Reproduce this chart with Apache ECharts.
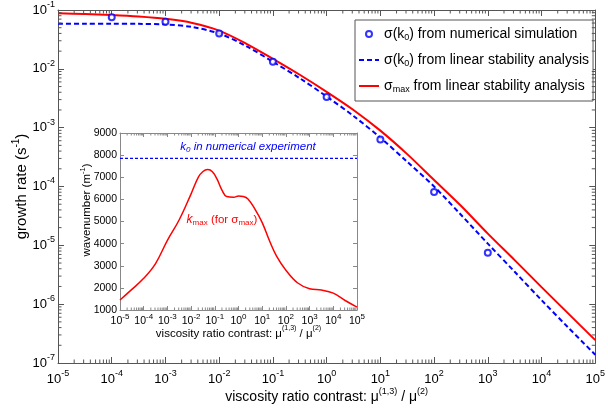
<!DOCTYPE html>
<html><head><meta charset="utf-8">
<script src="https://cdn.jsdelivr.net/npm/echarts@6/dist/echarts.min.js"></script>
<style>html,body{margin:0;padding:0;background:#fff}#c{width:608px;height:409px}</style>
</head><body><div id="c"></div>
<script>
// ---------- data ----------
const lineX = [1e-5, 3.16e-5, 1e-4, 3.16e-4, 1e-3, 3.16e-3, 1e-2, 3.16e-2, 1e-1, 3.16e-1, 1, 3.16, 10, 31.6, 100, 316, 1000, 3162, 1e4, 31623, 1e5];
const sigmaMax = [0.0879, 0.0855, 0.0822, 0.0776, 0.0708, 0.0603, 0.0447, 0.0269, 0.0148, 0.00794, 0.00407, 0.00200, 8.9e-4, 3.55e-4, 1.29e-4, 4.7e-5, 1.58e-5, 5.6e-6, 1.95e-6, 6.9e-7, 2.45e-7];
const sigmaK0Lsa = [0.0585, 0.0585, 0.0582, 0.0581, 0.0569, 0.0513, 0.0398, 0.0245, 0.0132, 0.00692, 0.00339, 0.00158, 6.76e-4, 2.63e-4, 1.0e-4, 3.31e-5, 1.07e-5, 3.55e-6, 1.17e-6, 3.98e-7, 1.38e-7];
const simX = [1e-4, 1e-3, 1e-2, 1e-1, 1, 10, 100, 1000];
const sigmaK0Sim = [0.0752, 0.0631, 0.0398, 0.0132, 0.00331, 6.3e-4, 8.1e-5, 7.5e-6];
const insetX = [1e-5, 3.16e-5, 1e-4, 3.16e-4, 1e-3, 3.16e-3, 1e-2, 0.02, 0.0316, 0.05, 0.0794, 0.126, 0.2, 0.316, 0.631, 1, 1.585, 2.512, 5.012, 10, 19.95, 39.8, 100, 316.2, 1000, 3162, 1e4, 31623, 1e5];
const kMax = [1450, 1930, 2430, 3100, 4150, 5080, 6250, 6997, 7260, 7350, 7250, 6900, 6420, 6130, 6100, 6150, 6130, 6020, 5550, 4950, 4150, 3450, 2800, 2220, 1960, 1900, 1760, 1430, 1130];
const k0Value = 7850;
const k0X = [1e-5, 1e5];
// tick labels (decade exponents)
const xExponents = [-5, -4, -3, -2, -1, 0, 1, 2, 3, 4, 5];
const yExponentsMain = [-7, -6, -5, -4, -3, -2, -1];
const insetYTicks = [1000, 2000, 3000, 4000, 5000, 6000, 7000, 8000, 9000];

// ---------- styling ----------
const FONT = 'Liberation Sans, Arial, Helvetica, sans-serif';
const AX = '#555';
const AXI = '#888';
const BLUE = '#0000ff';
const RED = '#ff0000';

const xMin = Math.pow(10, xExponents[0]), xMax = Math.pow(10, xExponents[xExponents.length - 1]);
const yMinM = Math.pow(10, yExponentsMain[0]), yMaxM = Math.pow(10, yExponentsMain[yExponentsMain.length - 1]);
const iyMin = insetYTicks[0], iyMax = insetYTicks[insetYTicks.length - 1];

function powLabel(v) {
  const e = Math.round(Math.log10(v));
  return '{b|10}{s|' + e + '}';
}
const mainRich = {
  b: { fontSize: 13, fontFamily: FONT, color: '#000', lineHeight: 20, verticalAlign: 'middle' },
  s: { fontSize: 9, fontFamily: FONT, color: '#000', lineHeight: 10, verticalAlign: 'top' }
};
const insetRich = {
  b: { fontSize: 10.5, fontFamily: FONT, color: '#000', lineHeight: 16, verticalAlign: 'middle' },
  s: { fontSize: 8, fontFamily: FONT, color: '#000', lineHeight: 8, verticalAlign: 'top' }
};
const nameRich = (fs) => ({
  a: { fontSize: fs, fontFamily: FONT, color: '#000', lineHeight: fs + 6, verticalAlign: 'middle' },
  s: { fontSize: Math.round(fs * 0.65), fontFamily: FONT, color: '#000', lineHeight: Math.round(fs * 0.65) + 1, verticalAlign: 'top' }
});

// minor tick positions derived from decade ticks (2..9 x 10^n)
function minorsFrom(exps) {
  const out = [];
  for (let i = 0; i < exps.length - 1; i++) {
    for (let k = 2; k <= 9; k++) out.push(k * Math.pow(10, exps[i]));
  }
  return out;
}
function tickMarks(xi, yi, pts, size, offset, color) {
  return {
    type: 'scatter', xAxisIndex: xi, yAxisIndex: yi, silent: true, z: 7, clip: false,
    symbol: 'rect', symbolSize: size, symbolOffset: offset,
    itemStyle: { color: color, opacity: 1 },
    emphasis: { disabled: true },
    data: pts
  };
}
function xMinor(xi, yi, vals, yLo, yHi, color, len) {
  return [
    tickMarks(xi, yi, vals.map(v => [v, yLo]), [1, len], [0, -len / 2], color),
    tickMarks(xi, yi, vals.map(v => [v, yHi]), [1, len], [0, len / 2], color)
  ];
}
function yMinor(xi, yi, vals, xLo, xHi, color, len) {
  return [
    tickMarks(xi, yi, vals.map(v => [xLo, v]), [len, 1], [len / 2, 0], color),
    tickMarks(xi, yi, vals.map(v => [xHi, v]), [len, 1], [-len / 2, 0], color)
  ];
}

function logAxisX(gridIndex, pos, withLabel, rich, color, margin, tickLen, name, nameGap, nameFs) {
  const ax = {
    type: 'log', logBase: 10, gridIndex, position: pos, min: xMin, max: xMax, interval: 1,
    axisLine: { show: true, onZero: false, lineStyle: { color, width: 1 } },
    axisTick: { show: true, inside: true, length: tickLen, lineStyle: { color } },
    splitLine: { show: false },
    axisLabel: withLabel ? { show: true, formatter: powLabel, rich, margin, showMinLabel: true, showMaxLabel: true, hideOverlap: false } : { show: false }
  };
  if (name) {
    ax.name = name; ax.nameLocation = 'middle'; ax.nameGap = nameGap; ax.nameMoveOverlap = false;
    ax.nameTextStyle = { rich: nameRich(nameFs), fontSize: nameFs, fontFamily: FONT, color: '#000' };
  }
  return ax;
}

const xTitle = '{a|viscosity ratio contrast: μ}{s|(1,3)}{a| / μ}{s|(2)}';
const noSym = { color: 'rgba(0,0,0,0)', borderColor: 'rgba(0,0,0,0)', borderWidth: 0 };

const option = {
  animation: false,
  backgroundColor: '#fff',
  grid: [
    { left: 58, right: 4, top: 10, bottom: 46, containLabel: false },
    { left: 120, right: 251, top: 133, bottom: 99, containLabel: false, show: true, backgroundColor: '#fff', borderWidth: 0, z: 3 }
  ],
  xAxis: [
    logAxisX(0, 'bottom', true, mainRich, AX, 6, 6, xTitle, 24, 14),
    logAxisX(0, 'top', false, null, AX, 0, 6),
    Object.assign(logAxisX(1, 'bottom', true, insetRich, AXI, 3, 4, xTitle, 15, 11.5), { z: 3 }),
    Object.assign(logAxisX(1, 'top', false, null, AXI, 0, 4), { z: 3 })
  ],
  yAxis: [
    {
      type: 'log', logBase: 10, gridIndex: 0, position: 'left', min: yMinM, max: yMaxM, interval: 1,
      axisLine: { show: true, lineStyle: { color: AX } },
      axisTick: { show: true, inside: true, length: 6, lineStyle: { color: AX } },
      splitLine: { show: false },
      axisLabel: { formatter: powLabel, rich: mainRich, margin: 3, showMinLabel: true, showMaxLabel: true, hideOverlap: false },
      name: '{a|growth rate (s}{s|-1}{a|)}', nameLocation: 'middle', nameGap: 26, nameMoveOverlap: false,
      nameTextStyle: { rich: nameRich(15), fontSize: 15, fontFamily: FONT, color: '#000' }
    },
    {
      type: 'log', logBase: 10, gridIndex: 0, position: 'right', min: yMinM, max: yMaxM, interval: 1,
      axisLine: { show: true, lineStyle: { color: AX } },
      axisTick: { show: true, inside: true, length: 6, lineStyle: { color: AX } },
      splitLine: { show: false }, axisLabel: { show: false }
    },
    {
      type: 'value', gridIndex: 1, position: 'left', min: iyMin, max: iyMax, interval: 1000, z: 3,
      axisLine: { show: true, lineStyle: { color: AXI } },
      axisTick: { show: true, inside: true, length: 4, lineStyle: { color: AXI } },
      splitLine: { show: false },
      axisLabel: { fontSize: 10.5, fontFamily: FONT, color: '#000', margin: 3, formatter: (v) => String(v), showMinLabel: true, showMaxLabel: true }
    },
    {
      type: 'value', gridIndex: 1, position: 'right', min: iyMin, max: iyMax, interval: 1000, z: 3,
      axisLine: { show: true, lineStyle: { color: AXI } },
      axisTick: { show: true, inside: true, length: 4, lineStyle: { color: AXI } },
      splitLine: { show: false }, axisLabel: { show: false }
    }
  ],
  legend: {
    orient: 'vertical', left: 355, top: 20,
    padding: [7, 4, 7, 3], itemGap: 11, itemWidth: 20, itemHeight: 6,
    borderColor: '#555', borderWidth: 1, backgroundColor: '#fff',
    data: [
      { name: 'sim' },
      { name: 'lsa', itemStyle: noSym },
      { name: 'max', itemStyle: noSym }
    ],
    formatter: (n) => ({
      sim: '{a|σ(k}{s|0}{a|) from numerical simulation}',
      lsa: '{a|σ(k}{s|0}{a|) from linear stability analysis}',
      max: '{a|σ}{s|max}{a| from linear stability analysis}'
    })[n],
    textStyle: {
      fontSize: 14, fontFamily: FONT, color: '#000',
      rich: {
        a: { fontSize: 14, fontFamily: FONT, color: '#000', lineHeight: 16, verticalAlign: 'middle' },
        s: { fontSize: 9, fontFamily: FONT, color: '#000', lineHeight: 10, verticalAlign: 'bottom' }
      }
    }
  },
  graphic: [
    {
      type: 'text', z: 10, x: 248, y: 147,
      style: {
        text: '{i|k}{si|0}{i| in numerical experiment}', align: 'center', verticalAlign: 'middle',
        fill: BLUE,
        rich: {
          i: { fontSize: 11.5, fontStyle: 'italic', fontFamily: FONT, fill: BLUE, color: BLUE, lineHeight: 14, verticalAlign: 'middle' },
          si: { fontSize: 8, fontStyle: 'italic', fontFamily: FONT, fill: BLUE, color: BLUE, lineHeight: 8, verticalAlign: 'bottom' }
        }
      }
    },
    {
      type: 'text', z: 10, x: 222, y: 220,
      style: {
        text: '{i|k}{s|max}{a| (for σ}{s|max}{a|)}', align: 'center', verticalAlign: 'middle',
        fill: RED,
        rich: {
          i: { fontSize: 12, fontStyle: 'italic', fontFamily: FONT, fill: RED, color: RED, lineHeight: 14, verticalAlign: 'middle' },
          a: { fontSize: 11.5, fontFamily: FONT, fill: RED, color: RED, lineHeight: 14, verticalAlign: 'middle' },
          s: { fontSize: 8, fontFamily: FONT, fill: RED, color: RED, lineHeight: 8, verticalAlign: 'bottom' }
        }
      }
    },
    {
      type: 'text', z: 10, x: 87, y: 210, rotation: Math.PI / 2,
      style: {
        text: '{a|wavenumber (m}{s|-1}{a|)}', align: 'center', verticalAlign: 'middle',
        rich: {
          a: { fontSize: 11.5, fontFamily: FONT, fill: '#000', color: '#000', lineHeight: 16, verticalAlign: 'middle' },
          s: { fontSize: 7.5, fontFamily: FONT, fill: '#000', color: '#000', lineHeight: 8, verticalAlign: 'top' }
        }
      }
    }
  ],
  series: [
    {
      name: 'sim', type: 'scatter', xAxisIndex: 0, yAxisIndex: 0, z: 5,
      symbol: 'emptyCircle', symbolSize: 6,
      itemStyle: { color: BLUE, borderColor: BLUE, borderWidth: 1.6 },
      data: simX.map((x, i) => [x, sigmaK0Sim[i]])
    },
    {
      name: 'lsa', type: 'line', xAxisIndex: 0, yAxisIndex: 0, z: 4,
      symbol: 'none', smooth: 0.3,
      lineStyle: { color: BLUE, width: 2, type: [5, 3] }, itemStyle: { color: BLUE },
      data: lineX.map((x, i) => [x, sigmaK0Lsa[i]])
    },
    {
      name: 'max', type: 'line', xAxisIndex: 0, yAxisIndex: 0, z: 4,
      symbol: 'none', smooth: 0.3,
      lineStyle: { color: RED, width: 2 }, itemStyle: { color: RED },
      data: lineX.map((x, i) => [x, sigmaMax[i]])
    },
    {
      name: 'k0', type: 'line', xAxisIndex: 2, yAxisIndex: 2, z: 6,
      symbol: 'none', lineStyle: { color: BLUE, width: 1.3, type: [3, 2] },
      data: k0X.map(x => [x, k0Value])
    },
    {
      name: 'kmax', type: 'line', xAxisIndex: 2, yAxisIndex: 2, z: 6,
      symbol: 'none', smooth: 0.4, lineStyle: { color: RED, width: 1.5 },
      data: insetX.map((x, i) => [x, kMax[i]])
    }
  ].concat(
    xMinor(0, 0, minorsFrom(xExponents), yMinM, yMaxM, AX, 3.5),
    yMinor(0, 0, minorsFrom(yExponentsMain), xMin, xMax, AX, 3.5),
    xMinor(2, 2, minorsFrom(xExponents), iyMin, iyMax, AXI, 2.5)
  )
};

const chart = echarts.init(document.getElementById('c'), null, { renderer: 'canvas' });
chart.setOption(option);
</script>
</body></html>
